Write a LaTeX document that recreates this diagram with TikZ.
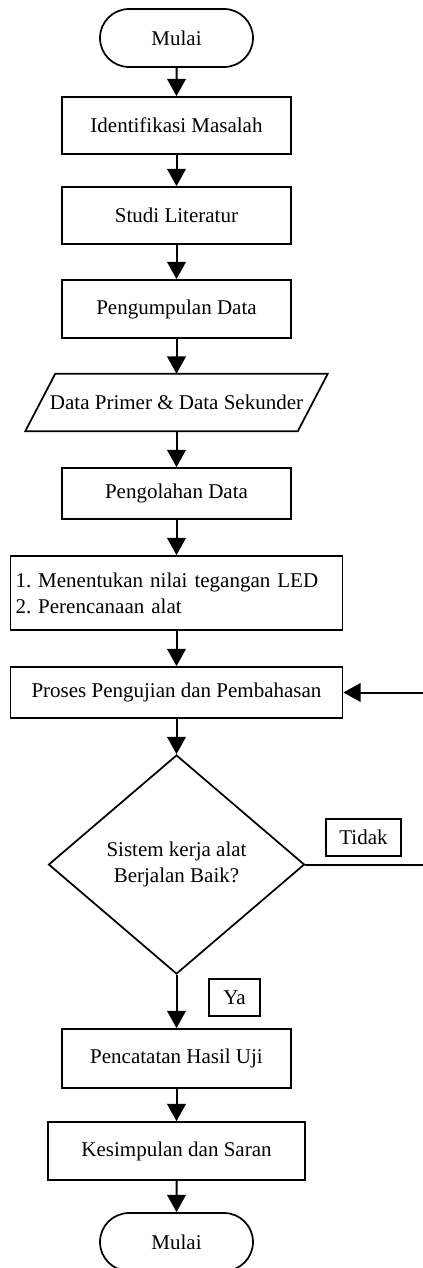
\documentclass[tikz,border=0pt]{standalone}
\usepackage{fontspec}
\setmainfont{Liberation Serif}
\usetikzlibrary{shapes.geometric,shapes.misc,arrows.meta,calc}
\begin{document}
\frenchspacing
\begin{tikzpicture}[x=0.75pt,y=-0.75pt,
  font=\fontsize{15.75}{19.5}\selectfont,
  box/.style={draw, line width=1.3pt, inner sep=0pt, align=center, rectangle},
  term/.style={draw, line width=1.3pt, inner sep=0pt, rounded rectangle,
    minimum width=114.75pt, minimum height=43.5pt},
  dec/.style={draw, line width=1.3pt, inner sep=0pt, diamond, align=center,
    minimum width=192pt, minimum height=164.25pt},
  lbl/.style={draw, line width=0.9pt, inner sep=0pt},
  edge/.style={line width=1.3pt, line join=miter},
  flow/.style={line width=1.5pt, -{Triangle[width=14pt,length=13pt]}}]
\useasboundingbox (0,0) rectangle (423,1268);

\node[term] (start) at (176.5,38) {Mulai};
\node[box, minimum width=171.75pt, minimum height=42.75pt] (ident) at (176.5,125.5) {Identifikasi Masalah};
\node[box, minimum width=171.75pt, minimum height=42.75pt] (studi) at (176.5,215.5) {Studi Literatur};
\node[box, minimum width=171.75pt, minimum height=43.5pt] (kumpul) at (176.5,309) {Pengumpulan Data};
\node[inner sep=0pt, minimum width=204pt, minimum height=42.75pt] (data) at (176.5,402.5) {Data Primer \& Data Sekunder};
\draw[edge] ($(data.north west)+(15,0)$) -- ($(data.north east)+(15,0)$)
  -- ($(data.south east)+(-15,0)$) -- ($(data.south west)+(-15,0)$) -- cycle;
\node[box, minimum width=171.75pt, minimum height=38.25pt] (olah) at (176.5,493.5) {Pengolahan Data};
\node[box, align=left, text width=241.5pt, inner xsep=3.75pt, minimum height=55.5pt] (tentu) at (176.5,593)
  {1. Menentukan nilai tegangan LED\\2. Perencanaan alat};
\node[box, minimum width=249pt, minimum height=38.25pt] (proses) at (176.5,692.5) {Proses Pengujian dan Pembahasan};
\node[dec] (cek) at (176.5,864.5) {Sistem kerja alat\\Berjalan Baik?};
\node[lbl, minimum width=56.25pt, minimum height=27.75pt] (tidak) at (363.5,837.5) {Tidak};
\node[lbl, minimum width=38.25pt, minimum height=27.75pt] (ya) at (234.5,997.5) {Ya};
\node[box, minimum width=171.75pt, minimum height=44.25pt] (catat) at (176.5,1058.5) {Pencatatan Hasil Uji};
\node[box, minimum width=192.75pt, minimum height=43.5pt] (simpul) at (176.5,1151) {Kesimpulan dan Saran};
\node[term] (selesai) at (176.5,1242) {Mulai};

\coordinate (fb) at (426,692.5);

\draw[flow] (start) -- (ident);
\draw[flow] (ident) -- (studi);
\draw[flow] (studi) -- (kumpul);
\draw[flow] (kumpul) -- (data);
\draw[flow] (data) -- (olah);
\draw[flow] (olah) -- (tentu);
\draw[flow] (tentu) -- (proses);
\draw[flow] (proses) -- (cek);
\draw[flow] (cek) -- (catat);
\draw[flow] (catat) -- (simpul);
\draw[flow] (simpul) -- (selesai);
\draw[flow] (cek.east) -- (cek.east -| fb) -- (fb) -- (proses.east);
\end{tikzpicture}
\end{document}
